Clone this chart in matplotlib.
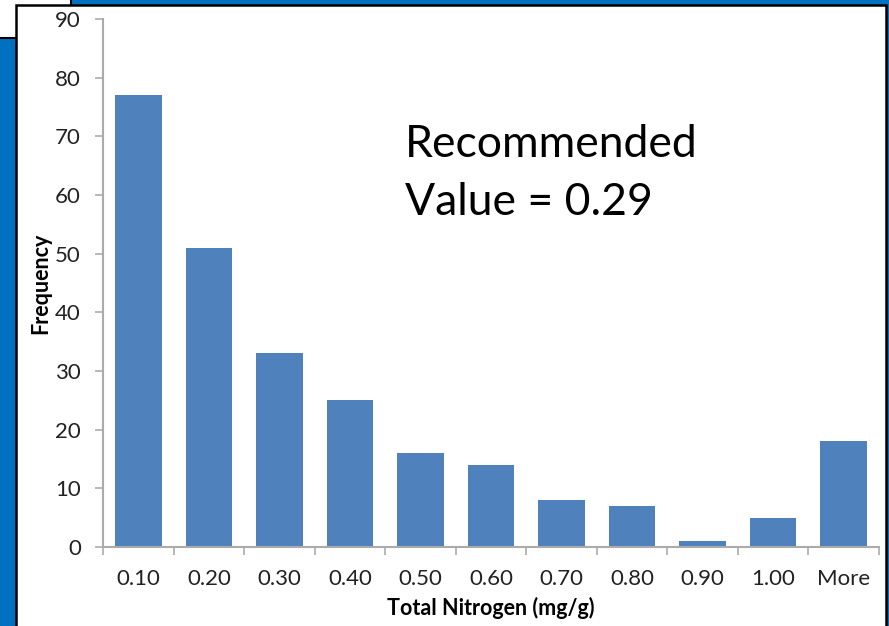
import matplotlib
matplotlib.use('Agg')
import matplotlib.pyplot as plt
from matplotlib.patches import Rectangle

plt.rcParams['font.family'] = ['Lato', 'DejaVu Sans']

categories = ['0.10', '0.20', '0.30', '0.40', '0.50', '0.60', '0.70', '0.80', '0.90', '1.00', 'More']
frequency = [77, 51, 33, 25, 16, 14, 8, 7, 1, 5, 18]

W, H = 889, 626
fig = plt.figure(figsize=(W / 100, H / 100), dpi=100, facecolor='#0070C0')


def px_rect(x0, y0, x1, y1, **kw):
    # rectangle given in pixel coords measured from top-left
    return Rectangle((x0 / W, 1 - y1 / H), (x1 - x0) / W, (y1 - y0) / H,
                     transform=fig.transFigure, figure=fig, zorder=-10, **kw)


# slide background pieces
fig.patches.append(px_rect(-5, -5, 71, 38, facecolor='white', edgecolor='black', linewidth=1.5))
fig.patches.append(px_rect(16, 5, 886, 640, facecolor='white', edgecolor='black', linewidth=1.8))

ax = fig.add_axes([103 / W, 1 - 547 / H, (879 - 103) / W, (547 - 19) / H])
ax.set_facecolor('none')

x = list(range(len(categories)))
ax.bar(x, frequency, width=0.66, color='#4F81BD', zorder=2)

ax.set_xlim(-0.5, len(categories) - 0.5)
ax.set_ylim(0, 90)
ax.set_yticks(range(0, 91, 10))
ax.set_xticks(x)
ax.set_xticklabels(categories)
ax.set_xticks([i - 0.5 for i in range(len(categories) + 1)], minor=True)

grey = '#ABABAB'
for side in ['top', 'right']:
    ax.spines[side].set_visible(False)
for side in ['left', 'bottom']:
    ax.spines[side].set_color(grey)
    ax.spines[side].set_linewidth(1.5)

ax.tick_params(axis='x', which='major', length=0, pad=16, labelsize=16, labelcolor='#222222')
ax.tick_params(axis='x', which='minor', length=6, width=1.2, color=grey, direction='out')
ax.tick_params(axis='y', length=6, width=1.2, color=grey, pad=10, labelsize=16, labelcolor='#222222')

ax.set_xlabel('Total Nitrogen (mg/g)', fontsize=15.5, fontweight='bold')
ax.set_ylabel('Frequency', fontsize=15.5, fontweight='bold')
ax.xaxis.set_label_coords(0.5, -0.094)
ax.yaxis.set_label_coords(-0.067, 0.5)

ax.text(405 / W, 1 - 124 / H, 'Recommended\nValue = 0.29', transform=fig.transFigure,
        fontsize=32, va='top', ha='left', linespacing=1.52, color='black')

fig.savefig('out.png', dpi=100, facecolor=fig.get_facecolor())
